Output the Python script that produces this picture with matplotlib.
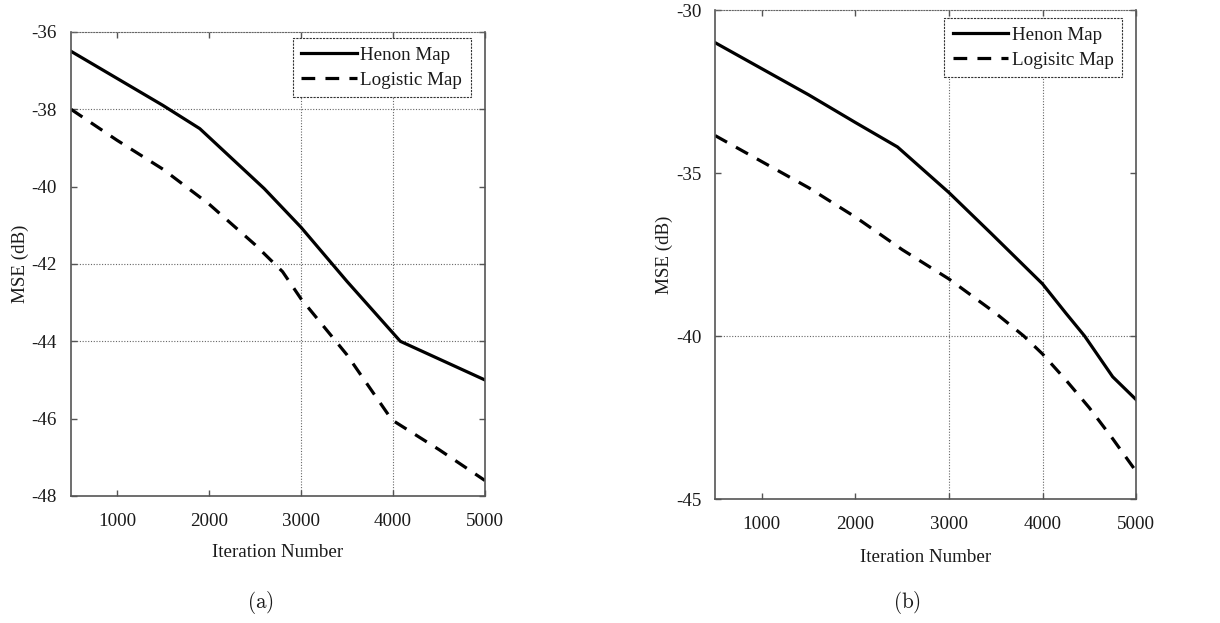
import matplotlib
matplotlib.use("Agg")
import matplotlib.pyplot as plt
from matplotlib.lines import Line2D

plt.rcParams["font.family"] = ["Liberation Serif", "DejaVu Serif"]
plt.rcParams["mathtext.fontset"] = "cm"
plt.rcParams["axes.unicode_minus"] = False

# ---- data -------------------------------------------------------------
# (a)
a_henon_x = [500, 1000, 1500, 1900, 2600, 3000, 3500, 4080, 5000]
a_henon_y = [-36.5, -37.2, -37.9, -38.5, -40.05, -41.05, -42.45, -44.0, -45.0]
a_logistic_x = [500, 1000, 1500, 2000, 2500, 2800, 3000, 3500, 3950, 4000, 4500, 5000]
a_logistic_y = [-38.0, -38.8, -39.55, -40.45, -41.5, -42.2, -42.9, -44.35, -45.9, -46.05, -46.8, -47.6]

# (b)
b_henon_x = [500, 1000, 1500, 2000, 2450, 3000, 3450, 4000, 4250, 4450, 4750, 5000]
b_henon_y = [-31.0, -31.8, -32.6, -33.45, -34.2, -35.6, -36.85, -38.4, -39.3, -40.0, -41.25, -41.95]
b_logistic_x = [500, 1000, 1500, 2000, 2500, 3000, 3500, 3800, 4000, 4250, 4500, 4750, 5000]
b_logistic_y = [-33.85, -34.65, -35.45, -36.35, -37.35, -38.25, -39.3, -40.0, -40.55, -41.35, -42.2, -43.15, -44.15]

x_ticks = [1000, 2000, 3000, 4000, 5000]
a_y_ticks = [-48, -46, -44, -42, -40, -38, -36]
b_y_ticks = [-45, -40, -35, -30]

# ---- styling ------------------------------------------------------------
TXT = "#1a1a1a"
SPINE = "#555555"
GRID = "#666666"
FS = 13.7
LW = 2.3
DASH = (4.3, 3.2)

fig = plt.figure(figsize=(12.2, 6.23), dpi=100)


def style_axes(ax, ylim, yticks, hgrid, vgrid, legend_labels, legend_anchor,
               xlabelpad):
    ax.set_xlim(500, 5000)
    ax.set_ylim(*ylim)
    ax.set_xticks(x_ticks)
    ax.set_yticks(yticks)
    ax.tick_params(direction="in", length=4, width=1.0, color=SPINE,
                   top=True, right=True, labelsize=FS, labelcolor=TXT)
    ax.tick_params(axis="x", pad=12)
    ax.tick_params(axis="y", pad=10)
    for side in ("left", "bottom", "right"):
        ax.spines[side].set_color(SPINE)
        ax.spines[side].set_linewidth(1.2)
    ax.spines["top"].set_color(GRID)
    ax.spines["top"].set_linewidth(0.8)
    ax.spines["top"].set_linestyle((0, (1, 1.5)))
    for yv in hgrid:
        ax.axhline(yv, color=GRID, lw=0.8, ls=(0, (1, 1.5)), zorder=0.5)
    for xv in vgrid:
        ax.axvline(xv, color=GRID, lw=0.8, ls=(0, (1, 1.5)), zorder=0.5)
    ax.set_xlabel("Iteration Number", fontsize=FS, color=TXT, labelpad=xlabelpad)
    ax.set_ylabel("MSE (dB)", fontsize=FS, color=TXT, labelpad=2)
    handles = [
        Line2D([], [], color="black", lw=LW),
        Line2D([], [], color="black", lw=LW, dashes=DASH),
    ]
    leg = ax.legend(handles, legend_labels, loc="upper right",
                    bbox_to_anchor=legend_anchor, borderaxespad=0,
                    fontsize=FS, handlelength=2.9, handletextpad=0.2,
                    borderpad=0.45, labelspacing=0.4, fancybox=False,
                    framealpha=1.0)
    frame = leg.get_frame()
    frame.set_edgecolor("#333333")
    frame.set_linewidth(0.8)
    frame.set_linestyle((0, (2, 1)))
    for t in leg.get_texts():
        t.set_color(TXT)


# panel (a)
ax1 = fig.add_axes([0.0582, 0.2039, 0.3393, 0.7448])
ax1.plot(a_henon_x, a_henon_y, color="black", lw=LW, solid_joinstyle="round")
ax1.plot(a_logistic_x, a_logistic_y, color="black", lw=LW, dashes=DASH)
style_axes(ax1, (-48, -36), a_y_ticks, [-38, -42, -44], [3000, 4000],
           ["Henon Map", "Logistic Map"], (0.966, 0.987), 10)

# panel (b)
ax2 = fig.add_axes([0.5861, 0.1990, 0.3451, 0.7849])
ax2.plot(b_henon_x, b_henon_y, color="black", lw=LW, solid_joinstyle="round")
ax2.plot(b_logistic_x, b_logistic_y, color="black", lw=LW, dashes=DASH)
style_axes(ax2, (-45, -30), b_y_ticks, [-40], [3000, 4000],
           ["Henon Map", "Logisitc Map"], (0.967, 0.9836), 12)

# sub-figure captions
fig.text(260 / 1220, 1 - 603 / 623, r"$\mathrm{(a)}$", ha="center", va="center",
         fontsize=FS + 1.5, color=TXT)
fig.text(907 / 1220, 1 - 603 / 623, r"$\mathrm{(b)}$", ha="center", va="center",
         fontsize=FS + 1.5, color=TXT)

fig.savefig("out.png", dpi=100)
